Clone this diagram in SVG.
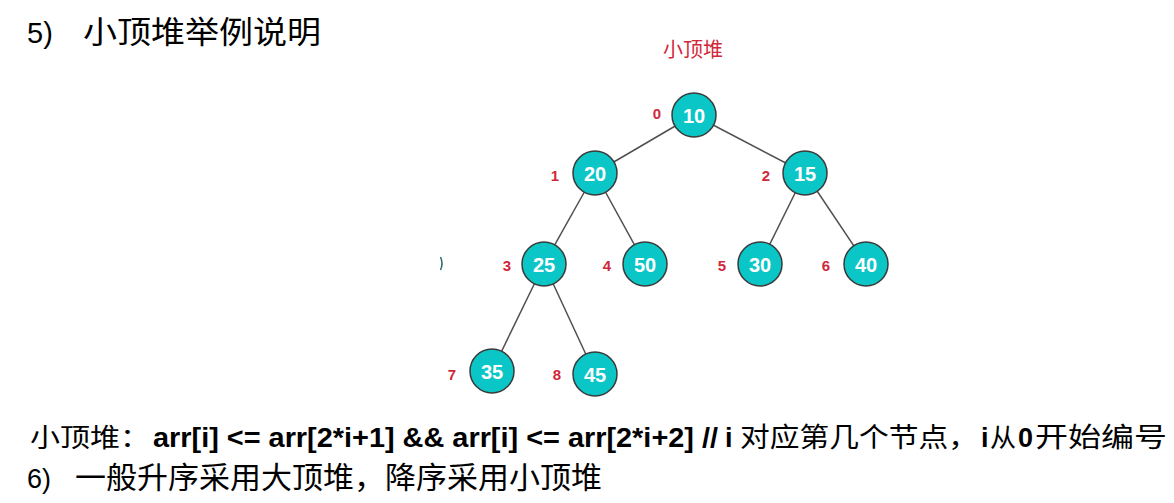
<svg xmlns="http://www.w3.org/2000/svg" width="1174" height="503" viewBox="0 0 1174 503">
<style>
.cjk{font-family:"Noto Sans CJK SC","Noto Sans",sans-serif;fill:#000}
.lat{font-family:"Liberation Sans",Arial,sans-serif;fill:#000}
.bold{font-family:"Liberation Sans",Arial,sans-serif;font-weight:bold;fill:#000}
.node circle{fill:#0bc6c6;stroke:#3a3a3a;stroke-width:1.5}
.node text.v{font-family:"Liberation Sans",Arial,sans-serif;font-weight:bold;font-size:20px;fill:#fff;text-anchor:middle;dominant-baseline:central}
.node text.i{font-family:"Liberation Sans",Arial,sans-serif;font-weight:bold;font-size:15px;fill:#d0283a;text-anchor:middle;dominant-baseline:central}
.edges line{stroke:#505050;stroke-width:1.5}
</style>
<rect width="1174" height="503" fill="#fff"/>
<g id="heading">
<text class="lat" x="27" y="43" font-size="29">5)</text>
<text class="cjk" x="83" y="43" font-size="31" textLength="238" lengthAdjust="spacingAndGlyphs">小顶堆举例说明</text>
</g>
<text id="title" x="693" y="57" font-family="'Noto Sans CJK SC',sans-serif" font-size="20" fill="#d0283a" text-anchor="middle">小顶堆</text>
<g id="connectors" class="edges">
<line x1="694" y1="115" x2="595" y2="173"/>
<line x1="694" y1="115" x2="805" y2="173"/>
<line x1="595" y1="173" x2="544" y2="264"/>
<line x1="595" y1="173" x2="645" y2="264"/>
<line x1="805" y1="173" x2="760" y2="264"/>
<line x1="805" y1="173" x2="866" y2="264"/>
<line x1="544" y1="264" x2="492" y2="371"/>
<line x1="544" y1="264" x2="595" y2="374"/>
</g>
<path id="fragment" d="M440.5,257 Q443.5,263.5 440.5,270" fill="none" stroke="#2f6b6b" stroke-width="1.5"/>
<g id="n0" class="node"><circle cx="694" cy="115" r="22"/><text class="v" x="694" y="116">10</text><text class="i" x="657" y="113">0</text></g>
<g id="n1" class="node"><circle cx="595" cy="173" r="22"/><text class="v" x="595" y="174">20</text><text class="i" x="555" y="175">1</text></g>
<g id="n2" class="node"><circle cx="805" cy="173" r="22"/><text class="v" x="805" y="174">15</text><text class="i" x="766" y="175">2</text></g>
<g id="n3" class="node"><circle cx="544" cy="264" r="22"/><text class="v" x="544" y="265">25</text><text class="i" x="507" y="265">3</text></g>
<g id="n4" class="node"><circle cx="645" cy="264" r="22"/><text class="v" x="645" y="265">50</text><text class="i" x="607" y="265">4</text></g>
<g id="n5" class="node"><circle cx="760" cy="264" r="22"/><text class="v" x="760" y="265">30</text><text class="i" x="722" y="265">5</text></g>
<g id="n6" class="node"><circle cx="866" cy="264" r="22"/><text class="v" x="866" y="265">40</text><text class="i" x="826" y="265">6</text></g>
<g id="n7" class="node"><circle cx="492" cy="371" r="22"/><text class="v" x="492" y="372">35</text><text class="i" x="452" y="374">7</text></g>
<g id="n8" class="node"><circle cx="595" cy="374" r="22"/><text class="v" x="595" y="375">45</text><text class="i" x="557" y="374">8</text></g>
<g id="rule">
<text class="cjk" x="30" y="447" font-size="26" textLength="120" lengthAdjust="spacingAndGlyphs">小顶堆：</text>
<text class="bold" x="153" y="447" font-size="27" textLength="565" lengthAdjust="spacingAndGlyphs">arr[i] &lt;= arr[2*i+1] &amp;&amp; arr[i] &lt;= arr[2*i+2] //</text>
<text class="bold" x="725" y="447" font-size="27">i</text>
<text class="cjk" x="740" y="447" font-size="27" textLength="238" lengthAdjust="spacingAndGlyphs">对应第几个节点，</text>
<text class="bold" x="981" y="447" font-size="27">i</text>
<text class="cjk" x="990" y="447" font-size="26">从</text>
<text class="bold" x="1018" y="447" font-size="27">0</text>
<text class="cjk" x="1035" y="447" font-size="27" textLength="132" lengthAdjust="spacingAndGlyphs">开始编号</text>
</g>
<g id="note">
<text class="lat" x="27" y="488" font-size="27">6)</text>
<text class="cjk" x="75" y="488" font-size="30" textLength="527" lengthAdjust="spacingAndGlyphs">一般升序采用大顶堆，降序采用小顶堆</text>
</g>
</svg>
